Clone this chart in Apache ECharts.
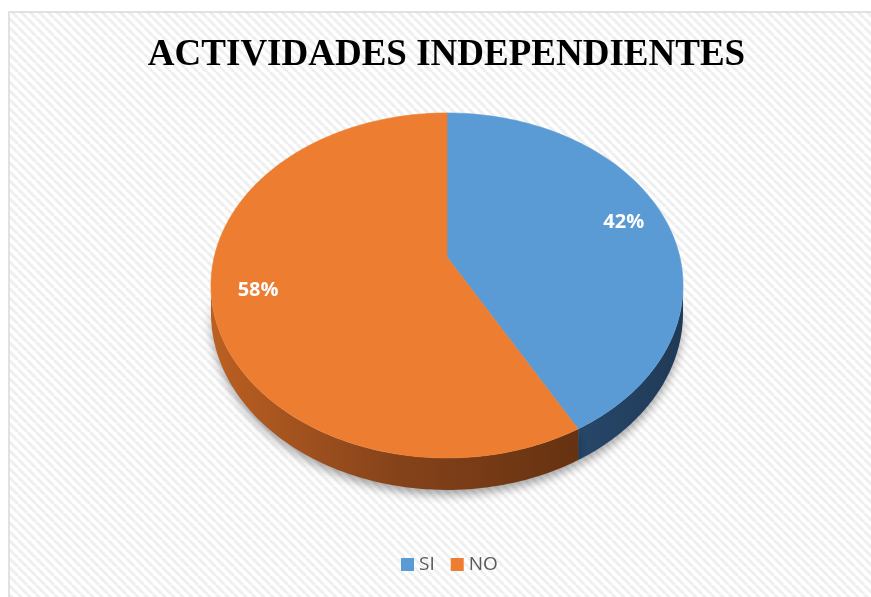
<!DOCTYPE html>
<html><head><meta charset="utf-8">
<script src="https://cdn.jsdelivr.net/npm/echarts@6/dist/echarts.min.js"></script>
<style>html,body{margin:0;padding:0;background:#fff}#c{width:871px;height:597px}</style>
</head><body><div id="c"></div>
<script>
const chartTitle = 'ACTIVIDADES INDEPENDIENTES';
const categories = ['SI', 'NO'];
const values = [42, 58];
const topColors = ['#5B9BD5', '#ED7D31'];

// 3D look (perspective + thickness)
const E = 0.165, H = 0.159;
const apexX = 447, apexY = 257, A = 232.8, B = 167.8;
const xMax = 1 / Math.sqrt(1 - E * E);
const yMax = 1 / (1 + E), yMin = -(1 + H) / (1 - E);

const total = values.reduce((a, b) => a + b, 0);
let acc = 0;
const slices = values.map(v => { const s = acc / total * 2 * Math.PI; acc += v; return [s, acc / total * 2 * Math.PI, v]; });

function proj(t, r, drop) {
  const s = Math.sin(t) * r, c = Math.cos(t) * r;
  const d = 1 + E * c;
  return [s / d, (c - drop) / d];
}

const wallFills = [
  new echarts.graphic.LinearGradient(0, 0, 1, 0, [{offset: 0, color: '#27476a'}, {offset: 1, color: '#1f3a56'}]),
  new echarts.graphic.LinearGradient(0, 0, 1, 0, [{offset: 0, color: '#bb6022'}, {offset: 0.5, color: '#86431a'}, {offset: 1, color: '#663211'}])
];

function makeRender(idx) {
  return function (params, api) {
    const a0 = api.value(0), a1 = api.value(1), v = api.value(2);
    const children = [];
    const N = 90;
    const lim = Math.acos(-E);
    const w0 = Math.max(a0, lim), w1 = Math.min(a1, 2 * Math.PI - lim);
    if (w1 > w0) {
      const pts = [];
      for (let k = 0; k <= N; k++) { const t = w0 + (w1 - w0) * k / N; pts.push(api.coord(proj(t, 1, 0))); }
      for (let k = N; k >= 0; k--) { const t = w0 + (w1 - w0) * k / N; pts.push(api.coord(proj(t, 1, H))); }
      children.push({type: 'polygon', z2: 1, shape: {points: pts},
        style: {fill: wallFills[idx], shadowBlur: 10, shadowColor: 'rgba(0,0,0,0.35)', shadowOffsetY: 5}});
    }
    const tp = [api.coord([0, 0])];
    for (let k = 0; k <= N; k++) { const t = a0 + (a1 - a0) * k / N; tp.push(api.coord(proj(t, 1, 0))); }
    children.push({type: 'polygon', z2: 2, shape: {points: tp},
      style: {fill: topColors[idx], stroke: topColors[idx], lineWidth: 0.6}});
    const m = (a0 + a1) / 2;
    const lp = api.coord(proj(m, 0.81, -0.01));
    children.push({type: 'text', z2: 3, x: lp[0], y: lp[1],
      style: {text: Math.round(v / total * 100) + '%', fill: '#ffffff', font: 'bold 20px "Open Sans"', align: 'center', verticalAlign: 'middle'}});
    return {type: 'group', children: children};
  };
}

const P = 9;
const pc = document.createElement('canvas'); pc.width = P; pc.height = P;
const g = pc.getContext('2d');
g.fillStyle = '#ffffff'; g.fillRect(0, 0, P, P);
g.strokeStyle = '#efefef'; g.lineWidth = 3;
for (const k of [-P, 0, P]) { g.beginPath(); g.moveTo(k, 0); g.lineTo(k + P, P); g.stroke(); }

const chart = echarts.init(document.getElementById('c'), null, {renderer: 'canvas'});
chart.setOption({
  animation: false,
  backgroundColor: '#ffffff',
  graphic: {elements: [
    {type: 'rect', z: -10, silent: true, shape: {x: 9, y: 12, width: 900, height: 620},
      style: {fill: {image: pc, repeat: 'repeat'}, stroke: '#d9d9d9', lineWidth: 1.5}},
    {type: 'text', x: 446.5, y: 55, style: {text: chartTitle, font: 'bold 37px "Liberation Serif"', fill: '#000000', align: 'center', verticalAlign: 'middle'}}
  ]},
  legend: {
    data: categories, left: 401, top: 555, padding: 0, icon: 'rect', itemWidth: 13, itemHeight: 13, itemGap: 16,
    textStyle: {color: '#595959', fontSize: 19, fontFamily: 'Open Sans'}
  },
  grid: {left: apexX - A * xMax, width: 2 * A * xMax, top: apexY - B * yMax, height: B * (yMax - yMin)},
  xAxis: {type: 'value', min: -xMax, max: xMax, show: false},
  yAxis: {type: 'value', min: yMin, max: yMax, show: false},
  series: categories.map((name, i) => ({
    type: 'custom', name: name, coordinateSystem: 'cartesian2d', clip: false,
    itemStyle: {color: topColors[i]},
    renderItem: makeRender(i),
    data: [slices[i]]
  }))
});
</script></body></html>
